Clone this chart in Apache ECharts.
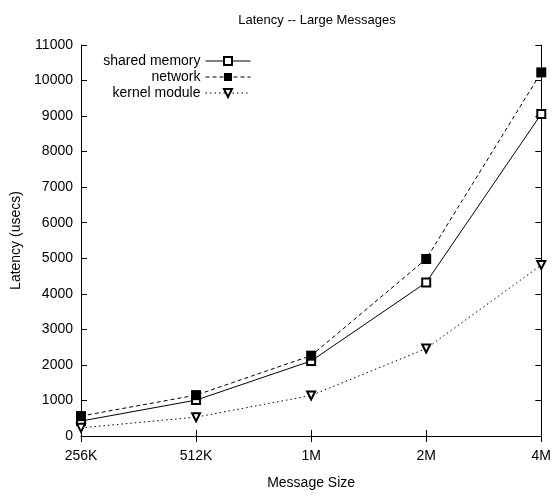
<!DOCTYPE html>
<html><head><meta charset="utf-8">
<script src="https://cdn.jsdelivr.net/npm/echarts@6/dist/echarts.min.js"></script>
<style>html,body{margin:0;padding:0;background:#fff}#c{width:554px;height:497px}</style>
</head><body><div id="c"></div>
<script>
const categories = ['256K', '512K', '1M', '2M', '4M'];
const sharedMemory = [420, 1010, 2110, 4320, 9060];
const network = [560, 1150, 2260, 4980, 10230];
const kernelModule = [230, 530, 1140, 2460, 4810];
const yTicks = {min: 0, max: 11000, interval: 1000};

const font = 'Liberation Sans, Arial, sans-serif';
const chart = echarts.init(document.getElementById('c'));
const tickStyle = {show: true, inside: true, length: 6, lineStyle: {color: '#000', width: 1}};
chart.setOption({
  animation: false,
  backgroundColor: '#fff',
  textStyle: {fontFamily: font, color: '#000'},
  title: {text: 'Latency -- Large Messages', left: 312, top: 9, textAlign: 'center',
    textStyle: {fontFamily: font, fontSize: 13, fontWeight: 'normal', color: '#000'}},
  grid: {left: 81, right: 11, top: 45, bottom: 61},
  legend: {orient: 'vertical', align: 'right', right: 298, top: 49, itemGap: 2,
    itemWidth: 45, itemHeight: 10,
    lineStyle: {width: 1},
    textStyle: {fontFamily: font, fontSize: 14, color: '#000'},
    data: [
      {name: 'shared memory', itemStyle: {borderWidth: 1}},
      {name: 'network'},
      {name: 'kernel module', itemStyle: {borderWidth: 1}}]},
  xAxis: [{type: 'category', data: categories, boundaryGap: false,
    name: 'Message Size', nameLocation: 'middle', nameGap: 40,
    nameTextStyle: {fontFamily: font, fontSize: 14, color: '#000'},
    axisLine: {lineStyle: {color: '#000', width: 1}},
    axisTick: tickStyle,
    axisLabel: {fontFamily: font, fontSize: 14, color: '#000', margin: 13},
    splitLine: {show: false}},
   {type: 'category', data: categories, boundaryGap: false, position: 'top',
    axisLine: {lineStyle: {color: '#000', width: 1}},
    axisTick: tickStyle, axisLabel: {show: false}, splitLine: {show: false}}],
  yAxis: [{type: 'value', min: yTicks.min, max: yTicks.max, interval: yTicks.interval,
    name: 'Latency (usecs)', nameLocation: 'middle', nameGap: 57,
    nameTextStyle: {fontFamily: font, fontSize: 14, color: '#000'},
    axisLine: {show: true, lineStyle: {color: '#000', width: 1}},
    axisTick: tickStyle,
    axisLabel: {fontFamily: font, fontSize: 14, color: '#000', margin: 8, formatter: v => String(v)},
    splitLine: {show: false}},
   {type: 'value', min: yTicks.min, max: yTicks.max, interval: yTicks.interval, position: 'right',
    axisLine: {show: true, lineStyle: {color: '#000', width: 1}},
    axisTick: tickStyle, axisLabel: {show: false}, splitLine: {show: false}}],
  series: [
    {name: 'shared memory', type: 'line', data: sharedMemory, symbol: 'emptyRect', symbolSize: 8,
      lineStyle: {color: '#000', width: 1, type: 'solid'},
      itemStyle: {color: '#000', borderColor: '#000', borderWidth: 1}},
    {name: 'network', type: 'line', data: network, symbol: 'rect', symbolSize: 10,
      lineStyle: {color: '#000', width: 1, type: [4, 3]},
      itemStyle: {color: '#000'}},
    {name: 'kernel module', type: 'line', data: kernelModule, symbol: 'emptyTriangle', symbolSize: 8,
      symbolRotate: 180,
      lineStyle: {color: '#000', width: 1, type: [1.5, 3]},
      itemStyle: {color: '#000', borderColor: '#000', borderWidth: 1}}
  ]
});
</script></body></html>
